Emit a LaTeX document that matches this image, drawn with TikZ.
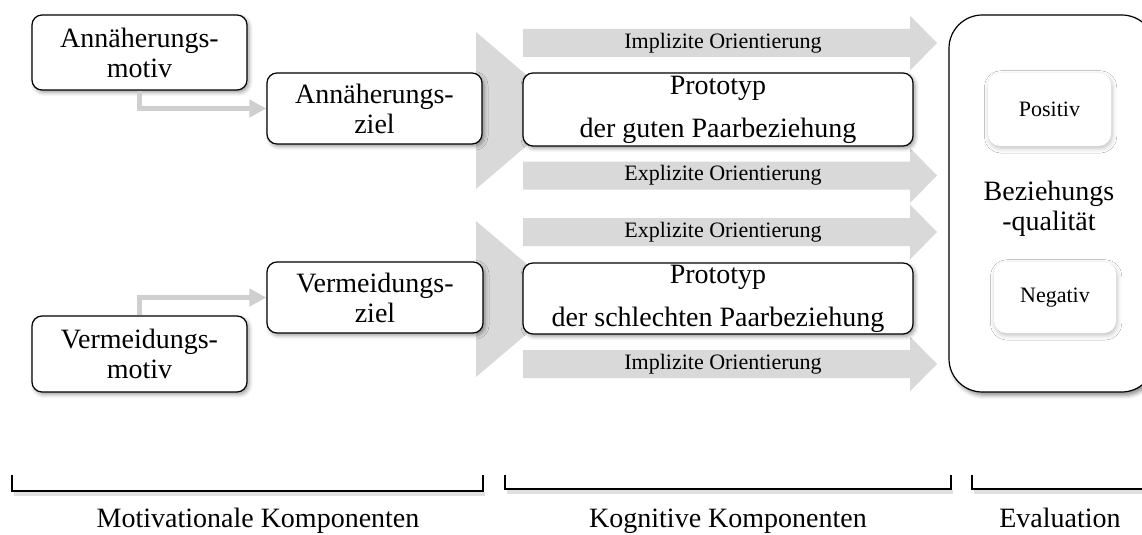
\documentclass[tikz,border=0pt]{standalone}
\usepackage{fontspec}
\setmainfont{Liberation Serif}
\usetikzlibrary{arrows.meta,shadows.blur}
\newcommand\myBig{\fontsize{21}{22.5}\selectfont}
\newcommand\mySmall{\fontsize{16.5}{19}\selectfont}
\colorlet{arrgray}{black!15}
\tikzset{
  shad/.style={blur shadow={shadow xshift=1.5pt, shadow yshift=-1.8pt, shadow blur radius=3pt, shadow opacity=40}},
  box/.style={draw=black, line width=0.9pt, fill=white, rounded corners=7.5pt, align=center,
    inner sep=0pt, font=\myBig, shad},
  softbox/.style={fill=white, rounded corners=9pt, align=center, inner sep=0pt, font=\mySmall,
    blur shadow={shadow xshift=0.8pt, shadow yshift=-1.8pt, shadow blur radius=3.5pt, shadow opacity=25}},
  bigbox/.style={draw=black, line width=0.9pt, fill=white, rounded corners=25pt, inner sep=0pt,
    blur shadow={shadow xshift=2pt, shadow yshift=-2.5pt, shadow blur radius=3pt, shadow opacity=45}},
  conn/.style={draw=black!19, line width=3.75pt, -{Triangle[length=12.75pt,width=12.75pt]}},
  arrfill/.style={fill=arrgray},
  smalltxt/.style={font=\mySmall, inner sep=0pt},
  labtxt/.style={font=\myBig, inner sep=0pt, anchor=base},
  bracket/.style={draw=black, line width=0.9pt},
  bracketshad/.style={draw=black!12, line width=3pt},
}
\newcommand\blockarrow[3]{%
  \fill[arrfill] (523,#1-14) -- (910,#1-14) -- (910,#1-27.5) -- (937,#1) -- (910,#1+27.5) -- (910,#1+14) -- (523,#1+14) -- cycle;
  \node[smalltxt] (#2) at (723,#1) {#3};}
\begin{document}
\begin{tikzpicture}[x=0.75pt,y=-0.75pt]
\useasboundingbox (0,0) rectangle (1142,535);
% big chevrons
\fill[arrfill] (476,32) -- (568,110.5) -- (476,189) -- cycle;
\fill[arrfill] (476,221) -- (568,299) -- (476,377) -- cycle;
% block arrows
\blockarrow{43}{impl1}{Implizite Orientierung}
\blockarrow{175.5}{expl1}{Explizite Orientierung}
\blockarrow{232}{expl2}{Explizite Orientierung}
\blockarrow{364}{impl2}{Implizite Orientierung}
% motivational boxes
\node[box, minimum width=161.25pt, minimum height=56.25pt] (am) at (139.5,52.5) {Annäherungs-\\motiv};
\node[box, minimum width=161.25pt, minimum height=53.25pt] (az) at (374.5,108.5) {Annäherungs-\\ziel};
\node[box, minimum width=162pt, minimum height=53.25pt] (vz) at (375,297.5) {Vermeidungs-\\ziel};
\node[box, minimum width=161.25pt, minimum height=57pt] (vm) at (139.5,354) {Vermeidungs-\\motiv};
% prototypes
\node[box, minimum width=292.5pt, minimum height=54.75pt] (pg) at (718,109.5) {Prototyp\\[9.75pt]der guten Paarbeziehung};
\node[box, minimum width=292.5pt, minimum height=53.25pt] (ps) at (718,298.5) {Prototyp\\[9.75pt]der schlechten Paarbeziehung};
% evaluation
\node[bigbox, minimum width=154.5pt, minimum height=282.75pt] (evalbox) at (1052,203.5) {};
\node[softbox, minimum width=92.25pt, minimum height=54.75pt] (pos) at (1049.5,109.5) {Positiv};
\node[softbox, minimum width=91.5pt, minimum height=53.25pt] (neg) at (1055,297.5) {Negativ};
\node[font=\myBig, align=center, inner sep=0pt] (qual) at (1049,209) {Beziehungs\\-qualität};
% connectors
\draw[conn] (am.south) |- (az.west);
\draw[conn] (vm.north) |- (vz.west);
% brackets
\draw[bracketshad] (14,494) -- (485,494);
\draw[bracketshad] (507,492) -- (953,492);
\draw[bracketshad] (974,492) -- (1150,492);
\draw[bracket] (12,475) -- (12,491) -- (483,491) -- (483,475);
\draw[bracket] (505,475) -- (505,489) -- (951,489) -- (951,475);
\draw[bracket] (972,475) -- (972,489) -- (1150,489);
% labels
\node[labtxt] (l1) at (258,527) {Motivationale Komponenten};
\node[labtxt] (l2) at (728,527) {Kognitive Komponenten};
\node[labtxt] (l3) at (1060,527) {Evaluation};
\end{tikzpicture}
\end{document}
